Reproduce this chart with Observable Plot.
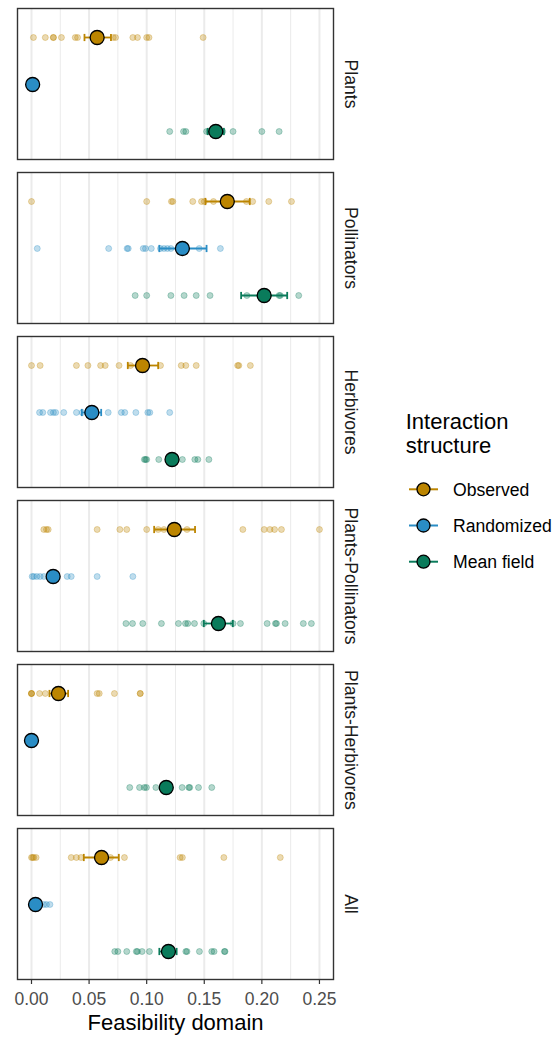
<!DOCTYPE html>
<html><head><meta charset="utf-8">
<script src="https://cdn.jsdelivr.net/npm/d3@7"></script>
<script src="https://cdn.jsdelivr.net/npm/@observablehq/plot@0.6"></script>
<style>
body{margin:0;background:#fff;font-family:"Liberation Sans",Arial,Helvetica,sans-serif;}
#wrap{position:relative;width:556px;height:1039px;background:#fff;}
#legend{position:absolute;left:370px;top:400px;}
</style></head>
<body><div id="wrap"><div id="chart"></div><svg id="legend" width="186" height="200"></svg></div>
<script>
// ---- data ----
const groups = ["Plants", "Pollinators", "Herbivores", "Plants-Pollinators", "Plants-Herbivores", "All"];
const structures = ["Observed", "Randomized", "Mean field"];
const colors = ["#BC8500", "#2A8DC5", "#0A7B5B"];
const majorTicks = [0, 0.05, 0.10, 0.15, 0.20, 0.25];
const minorTicks = [0.025, 0.075, 0.125, 0.175, 0.225];
const xTitle = "Feasibility domain";
const legendTitle = ["Interaction", "structure"];

// individual values per group: [Observed, Randomized, Mean field]
const plantsPoints = [
  [0.0017, 0.012, 0.019, 0.019, 0.026, 0.038, 0.040, 0.071, 0.073, 0.088, 0.092, 0.100, 0.102, 0.149],
  [0.0005, 0.001, 0.002],
  [0.120, 0.132, 0.134, 0.152, 0.154, 0.166, 0.175, 0.200, 0.215]
];
const pollinatorsPoints = [
  [0.000, 0.100, 0.1215, 0.1227, 0.140, 0.1476, 0.150, 0.158, 0.1866, 0.192, 0.206, 0.2257],
  [0.005, 0.067, 0.083, 0.084, 0.097, 0.099, 0.104, 0.112, 0.115, 0.118, 0.121, 0.1456, 0.164],
  [0.090, 0.100, 0.121, 0.1325, 0.143, 0.155, 0.187, 0.215, 0.216, 0.232]
];
const herbivoresPoints = [
  [0.000, 0.0075, 0.039, 0.049, 0.060, 0.064, 0.076, 0.086, 0.112, 0.130, 0.134, 0.143, 0.179, 0.180, 0.190],
  [0.007, 0.0098, 0.0165, 0.019, 0.021, 0.028, 0.039, 0.044, 0.0666, 0.078, 0.081, 0.0906, 0.101, 0.1027, 0.120],
  [0.098, 0.099, 0.100, 0.1105, 0.131, 0.1418, 0.1444, 0.154]
];
const plantsPollinatorsPoints = [
  [0.0107, 0.013, 0.0145, 0.057, 0.0767, 0.0827, 0.100, 0.110, 0.115, 0.135, 0.1835, 0.202, 0.207, 0.211, 0.217, 0.250],
  [0.0006, 0.002, 0.0046, 0.0075, 0.0107, 0.031, 0.0345, 0.057, 0.088],
  [0.082, 0.0877, 0.0966, 0.1128, 0.1276, 0.1337, 0.1357, 0.1415, 0.1496, 0.175, 0.1814, 0.2046, 0.2118, 0.2127, 0.2202, 0.236, 0.243]
];
const plantsHerbivoresPoints = [
  [0.000, 0.000, 0.000, 0.007, 0.012, 0.057, 0.0588, 0.072, 0.0944, 0.0944],
  [0.000, 0.000, 0.000],
  [0.0853, 0.0938, 0.098, 0.0998, 0.108, 0.1308, 0.1366, 0.1374, 0.145, 0.1565]
];
const allPoints = [
  [0.000, 0.001, 0.002, 0.004, 0.0345, 0.039, 0.043, 0.0686, 0.0807, 0.129, 0.131, 0.167, 0.216],
  [0.002, 0.003, 0.0107, 0.013, 0.016],
  [0.0723, 0.075, 0.0827, 0.091, 0.092, 0.096, 0.1024, 0.134, 0.135, 0.1458, 0.1565, 0.1585, 0.1675, 0.168]
];
const groupPoints = [plantsPoints, pollinatorsPoints, herbivoresPoints, plantsPollinatorsPoints, plantsHerbivoresPoints, allPoints];

// means and error-bar limits, in group order
const meanObserved   = [0.057, 0.170, 0.0964, 0.124, 0.0234, 0.0608];
const lowObserved    = [0.046, 0.151, 0.0836, 0.1065, 0.0156, 0.0454];
const highObserved   = [0.069, 0.1895, 0.110, 0.142, 0.0318, 0.0758];
const meanRandomized = [0.001, 0.131, 0.0524, 0.0188, 0.000, 0.0035];
const lowRandomized  = [0.000, 0.111, 0.0437, 0.014, 0.000, 0.002];
const highRandomized = [0.002, 0.152, 0.0605, 0.023, 0.000, 0.005];
const meanMeanField  = [0.160, 0.202, 0.122, 0.1623, 0.117, 0.1189];
const lowMeanField   = [0.153, 0.182, 0.119, 0.1496, 0.113, 0.111];
const highMeanField  = [0.167, 0.222, 0.125, 0.1748, 0.121, 0.126];
const means = [meanObserved, meanRandomized, meanMeanField];
const lows = [lowObserved, lowRandomized, lowMeanField];
const highs = [highObserved, highRandomized, highMeanField];

// ---- tables ----
const rows = [];
groups.forEach((g, gi) => structures.forEach((s, si) =>
  groupPoints[gi][si].forEach(v => rows.push({group: g, structure: s, value: v}))));
const summary = [];
groups.forEach((g, gi) => structures.forEach((s, si) =>
  summary.push({group: g, structure: s, mean: means[si][gi], lo: lows[si][gi], hi: highs[si][gi]})));

const FONT = '"Liberation Sans", Arial, Helvetica, sans-serif';
// vertical cap symbol for error bars
const capSymbol = {draw(context) { context.moveTo(0, -3.6); context.lineTo(0, 3.6); }};

const chart = Plot.plot({
  width: 556, height: 1039,
  marginLeft: 17, marginRight: 223, marginTop: 6, marginBottom: 58,
  style: {fontFamily: FONT, background: "#fff", overflow: "visible"},
  x: {domain: [-0.01215, 0.2622]},
  y: {type: "point", domain: structures, padding: 0.6, axis: null},
  fy: {domain: groups, paddingInner: 0.0766, paddingOuter: 0, axis: null},
  color: {domain: structures, range: colors},
  marks: [
    Plot.ruleX(minorTicks, {stroke: "#EBEBEB", strokeWidth: 1}),
    Plot.ruleX(majorTicks, {stroke: "#EBEBEB", strokeWidth: 2}),
    Plot.dot(rows, {x: "value", y: "structure", fy: "group", fill: "structure", stroke: "structure",
      r: 3, fillOpacity: 0.3, strokeOpacity: 0.3, strokeWidth: 1}),
    Plot.link(summary, {x1: "lo", x2: "hi", y1: "structure", y2: "structure", fy: "group", stroke: "structure", strokeWidth: 1.8}),
    Plot.dot(summary, {x: "lo", y: "structure", fy: "group", stroke: "structure", fill: "none", symbol: capSymbol, strokeWidth: 1.8}),
    Plot.dot(summary, {x: "hi", y: "structure", fy: "group", stroke: "structure", fill: "none", symbol: capSymbol, strokeWidth: 1.8}),
    Plot.dot(summary, {x: "mean", y: "structure", fy: "group", fill: "structure", stroke: "black", strokeWidth: 1.3, r: 7}),
    Plot.frame({stroke: "#333333", strokeWidth: 1.4}),
    Plot.text(groups, {fy: d => d, text: d => d, frameAnchor: "right", dx: 17, rotate: 90,
      fontSize: 17.6, fill: "#1A1A1A", textAnchor: "middle"}),
    Plot.axisX(majorTicks, {tickFormat: d3.format(".2f"), tickSize: 5, tickPadding: 8, fontSize: 17.5,
      fill: "#4D4D4D", stroke: "#333333", strokeWidth: 1.2, label: null}),
    Plot.text([xTitle], {fy: ["All"], text: d => d, frameAnchor: "bottom", dy: 50, fontSize: 22, fill: "#000"})
  ]
});
document.getElementById("chart").appendChild(chart);

// ---- legend ----
const leg = d3.select("#legend").style("font-family", FONT);
leg.selectAll("text.title").data(legendTitle).join("text")
  .attr("class", "title").attr("x", 35.7).attr("y", (d, i) => 29.3 + i * 24)
  .attr("font-size", 22).attr("fill", "#000").text(d => d);
const entry = leg.selectAll("g.entry").data(structures).join("g")
  .attr("class", "entry").attr("transform", (d, i) => `translate(0,${89.3 + i * 36.2})`);
entry.append("line").attr("x1", 39).attr("x2", 68).attr("y1", 0).attr("y2", 0)
  .attr("stroke", (d, i) => colors[i]).attr("stroke-width", 2);
entry.append("circle").attr("cx", 53.5).attr("cy", 0).attr("r", 6.5)
  .attr("fill", (d, i) => colors[i]).attr("stroke", "#000").attr("stroke-width", 1.3);
entry.append("text").attr("x", 83).attr("y", 6.3).attr("font-size", 17.6).attr("fill", "#000").text(d => d);
</script>
</body></html>
